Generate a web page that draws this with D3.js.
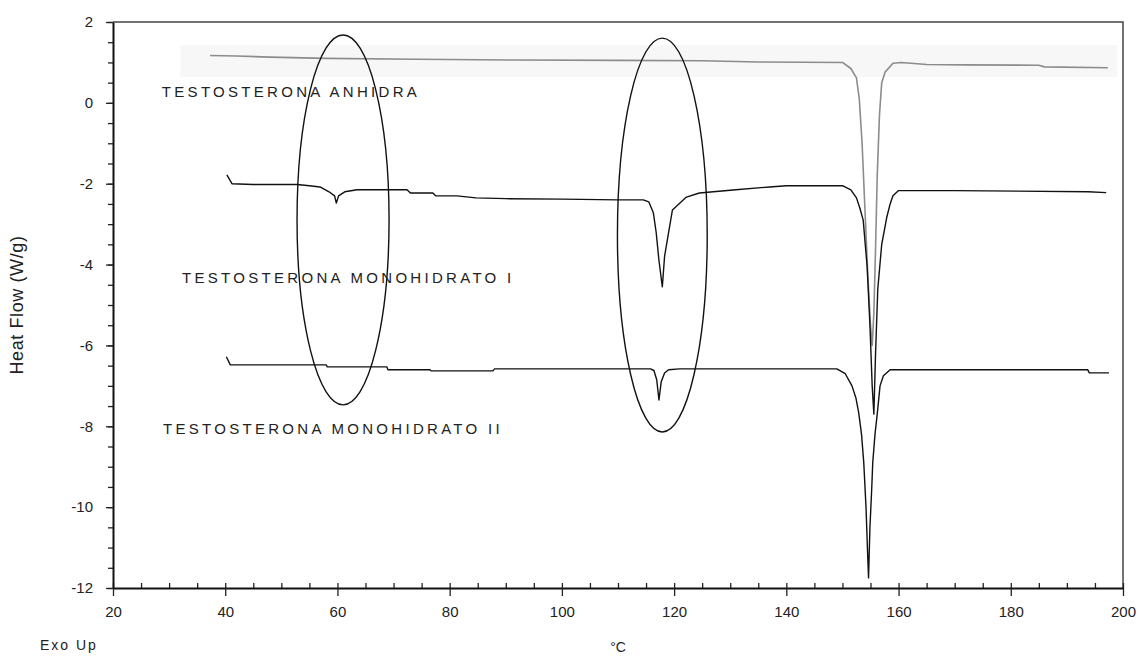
<!DOCTYPE html>
<meta charset="utf-8">
<head>
	<script type="text/javascript" src="https://cdn.jsdelivr.net/npm/d3@7"></script>
	<style>
		body { margin: 0; background: #fff; }
		text { font-family: "Liberation Sans", Arial, sans-serif; fill: #222; }
	</style>
</head>
<body>
	<svg id="chart" width="1139" height="660"></svg>
</body>
<script type="text/javascript">
	// curves: [temperature °C, heat flow W/g]
	var anhidra = [[37.3,1.17],[42,1.16],[48,1.13],[58,1.10],[74,1.08],[92,1.06],[110,1.05],[125,1.04],[135,1.01],[150,1.0],
		[151.5,0.85],[152.5,0.62],[153.0,0.1],[153.5,-1.0],[154.0,-2.6],[154.5,-4.2],[155.0,-5.5],[155.3,-6.0],[155.6,-5.2],
		[155.9,-3.6],[156.2,-1.8],[156.6,-0.3],[157.0,0.5],[157.6,0.76],[159,0.98],[160.5,1.0],[165,0.95],[172,0.94],
		[185,0.93],[186,0.89],[197.3,0.87]];

	var monoI = [[40.3,-1.78],[41.2,-2.0],[45,-2.02],[52.8,-2.02],[55,-2.05],[56.9,-2.08],[58.5,-2.2],[59.5,-2.3],[59.8,-2.48],
		[60.2,-2.3],[61.3,-2.2],[63.5,-2.15],[72.4,-2.15],[73,-2.23],[77,-2.23],[77.5,-2.3],[81.3,-2.3],[84.7,-2.35],[90,-2.37],
		[100,-2.38],[110,-2.4],[114.5,-2.4],[115.5,-2.45],[116.3,-2.72],[116.8,-3.2],[117.3,-3.9],[117.9,-4.55],[118.3,-3.8],
		[118.9,-3.3],[119.7,-2.65],[122.2,-2.33],[124.5,-2.23],[127,-2.2],[131,-2.15],[137,-2.08],[140,-2.05],[150,-2.05],
		[151.5,-2.15],[152.5,-2.35],[153.1,-2.6],[153.7,-2.9],[154.4,-4.05],[154.9,-5.5],[155.3,-7.0],[155.6,-7.7],[155.9,-6.2],
		[156.3,-4.6],[157.0,-3.5],[157.9,-2.83],[158.5,-2.5],[159.0,-2.3],[160,-2.17],[170,-2.17],[193.8,-2.2],[197,-2.22]];

	var monoII = [[40.2,-6.28],[40.9,-6.48],[58,-6.48],[58.2,-6.53],[68.8,-6.53],[69,-6.6],[76.5,-6.6],[76.7,-6.63],[87.7,-6.63],
		[88,-6.58],[115.8,-6.58],[116.4,-6.62],[116.9,-6.85],[117.3,-7.35],[117.7,-6.9],[118.3,-6.68],[119,-6.6],[121,-6.58],
		[149,-6.58],[150.5,-6.7],[151.7,-7.0],[152.4,-7.3],[152.9,-7.67],[153.4,-8.2],[153.8,-8.9],[154.2,-10.0],[154.5,-11.2],
		[154.65,-11.75],[154.9,-10.5],[155.2,-9.6],[155.4,-8.9],[155.8,-8.2],[156.2,-7.7],[156.7,-7.0],[157.3,-6.75],[158.5,-6.6],
		[160,-6.6],[193.7,-6.6],[194,-6.68],[197.5,-6.68]];

	var seriesNames = ["TESTOSTERONA ANHIDRA", "TESTOSTERONA MONOHIDRATO I", "TESTOSTERONA MONOHIDRATO II"];
	var seriesColors = ["#8c8c8c", "#111", "#111"];
	// where each name sits, in data units [°C, W/g]
	var labelAnchors = [[28.7,0.15],[32.3,-4.45],[28.9,-8.19]];

	// the two hand drawn ellipses: centre °C, half width °C, top and bottom W/g
	var ellipses = [[61,8.2,1.68,-7.47],[117.9,8.0,1.6,-8.14]];

	var xTicks = [20,40,60,80,100,120,140,160,180,200];
	var yTicks = [-12,-10,-8,-6,-4,-2,0,2];

	var svg = d3.select('#chart');
	var x = d3.scaleLinear().domain([20, 200]).range([113, 1123]);
	var y = d3.scaleLinear().domain([-12, 2]).range([588, 22]);

	// faint grey band from the scan behind the anhydrous trace
	svg.append('rect')
		.attr('x', x(32)).attr('y', y(1.43))
		.attr('width', x(199) - x(32)).attr('height', y(0.64) - y(1.43))
		.style('fill', '#f7f7f7');

	// frame top and right
	svg.append('path')
		.attr('d', 'M' + x(20) + ',' + y(2) + 'H' + x(200) + 'V' + y(-12))
		.style('fill', 'none').style('stroke', '#444').style('stroke-width', 1.5);

	// minor ticks
	svg.append('g').attr('transform', 'translate(' + x(20) + ',0)')
		.call(d3.axisLeft(y).tickValues(d3.range(-12, 2.01, 0.5)).tickSize(5).tickFormat(''))
		.call(function(g){ g.select('.domain').remove(); });
	svg.append('g').attr('transform', 'translate(0,' + y(-12) + ')')
		.call(d3.axisBottom(x).tickValues(d3.range(20, 200.01, 5)).tickSize(-5).tickFormat(''))
		.call(function(g){ g.select('.domain').remove(); });

	var plain = function(d){ return String(d); };
	var yAxis = svg.append('g').attr('transform', 'translate(' + x(20) + ',0)')
		.call(d3.axisLeft(y).tickValues(yTicks).tickFormat(plain).tickSize(7).tickPadding(13).tickSizeOuter(0));
	var xAxis = svg.append('g').attr('transform', 'translate(0,' + y(-12) + ')')
		.call(d3.axisBottom(x).tickValues(xTicks).tickFormat(plain).tickSize(8).tickPadding(10).tickSizeOuter(0));
	[yAxis, xAxis].forEach(function(a){
		a.selectAll('text').style('font-size', '15px').style('font-family', '"Liberation Sans", Arial, sans-serif').attr('fill', '#222');
		a.select('.domain').style('stroke-width', 2).style('stroke', '#111');
	});
	svg.selectAll('.tick line').style('stroke', '#222').style('stroke-width', 1.3);

	svg.append('text')
		.attr('transform', 'translate(23,305) rotate(-90)')
		.attr('text-anchor', 'middle')
		.style('font-size', '18px')
		.style('letter-spacing', '0.6px')
		.text('Heat Flow (W/g)');
	svg.append('text').attr('x', x(110)).attr('y', 652).attr('text-anchor', 'middle')
		.style('font-size', '14px').text('°C');
	svg.append('text').attr('x', 40).attr('y', 650)
		.style('font-size', '14px').style('letter-spacing', '2px').text('Exo Up');

	// curves
	var line = d3.line().x(function(d){ return x(d[0]); }).y(function(d){ return y(d[1]); });
	[anhidra, monoI, monoII].forEach(function(s, i){
		svg.append('path')
			.attr('d', line(s))
			.style('fill', 'none')
			.style('stroke', seriesColors[i])
			.style('stroke-width', i == 0 ? 1.6 : 1.4)
			.style('stroke-linejoin', 'round');
	});

	ellipses.forEach(function(e){
		svg.append('ellipse')
			.attr('cx', x(e[0]))
			.attr('cy', (y(e[2]) + y(e[3])) / 2)
			.attr('rx', x(e[0] + e[1]) - x(e[0]))
			.attr('ry', (y(e[3]) - y(e[2])) / 2)
			.style('fill', 'none').style('stroke', '#111').style('stroke-width', 1.4);
	});

	seriesNames.forEach(function(n, i){
		svg.append('text')
			.attr('x', x(labelAnchors[i][0]))
			.attr('y', y(labelAnchors[i][1]))
			.style('font-size', '15px')
			.style('letter-spacing', '3.3px')
			.text(n);
	});
</script>
